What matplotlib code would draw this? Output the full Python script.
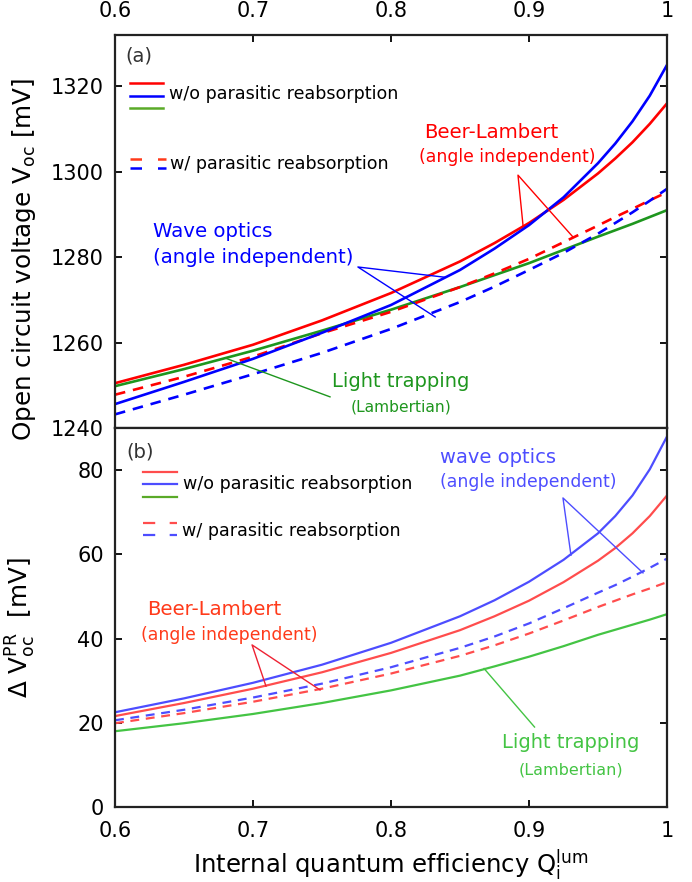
import matplotlib.pyplot as plt

# internal quantum efficiency grid
qi = [0.6, 0.65, 0.7, 0.75, 0.8, 0.85, 0.875, 0.9, 0.925, 0.95, 0.9625, 0.975, 0.9875, 1.0]

# (a) open circuit voltage [mV]
voc_bl = [1250.5, 1254.8, 1259.5, 1265.2, 1271.6, 1279.0, 1283.3, 1288.0, 1293.4, 1299.6, 1303.1, 1306.9, 1311.2, 1316.0]
voc_wo = [1245.6, 1250.8, 1256.2, 1262.3, 1268.8, 1277.0, 1282.0, 1287.5, 1294.0, 1302.0, 1306.6, 1311.8, 1317.8, 1325.0]
voc_lt = [1249.8, 1253.8, 1258.1, 1262.8, 1267.7, 1273.0, 1275.8, 1278.6, 1281.7, 1284.8, 1286.3, 1287.8, 1289.4, 1291.0]
voc_bl_pr = [1247.8, 1252.0, 1256.7, 1262.2, 1267.2, 1273.0, 1276.2, 1279.6, 1283.5, 1287.4, 1289.4, 1291.3, 1293.3, 1295.2]
voc_wo_pr = [1243.2, 1247.8, 1252.6, 1257.6, 1263.2, 1269.5, 1273.1, 1277.0, 1281.0, 1285.5, 1288.0, 1290.5, 1293.2, 1296.0]

# (b) Delta Voc due to photon recycling [mV]
dv_wo = [22.5, 25.8, 29.5, 33.8, 39.0, 45.3, 49.1, 53.5, 58.7, 65.0, 69.1, 74.0, 80.2, 88.0]
dv_bl = [21.6, 24.7, 28.1, 32.0, 36.6, 42.0, 45.3, 49.0, 53.4, 58.5, 61.5, 65.0, 69.1, 74.0]
dv_wo_pr = [20.6, 23.1, 26.0, 29.3, 33.2, 37.8, 40.5, 43.6, 47.2, 50.9, 52.7, 54.7, 56.8, 59.0]
dv_bl_pr = [19.9, 22.3, 25.0, 28.1, 31.7, 35.9, 38.4, 41.2, 44.3, 47.5, 49.0, 50.5, 51.9, 53.4]
dv_lt = [18.0, 19.9, 22.1, 24.7, 27.7, 31.2, 33.4, 35.7, 38.2, 40.9, 42.1, 43.3, 44.5, 45.8]

xticks = [0.6, 0.7, 0.8, 0.9, 1.0]
xticklabels = ["0.6", "0.7", "0.8", "0.9", "1"]

plt.rcParams["font.family"] = "DejaVu Sans"
plt.rcParams["mathtext.default"] = "regular"

fig = plt.figure(figsize=(6.92, 8.82), dpi=100)
ax1 = fig.add_axes([0.1662, 0.5147, 0.7977, 0.4456])
ax2 = fig.add_axes([0.1662, 0.0850, 0.7977, 0.4297])

RED, BLUE, GREEN = "#ff0000", "#0000ff", "#1e961e"
RED2, BLUE2, GREEN2 = "#ff4d4d", "#4d4dff", "#44c444"
LEG_GREEN = "#5aaa28"
DASH = (4, 3)
LEG_FS = 12.6

# ---- panel (a)
ax1.plot(qi, voc_lt, color=GREEN, lw=1.9)
ax1.plot(qi, voc_bl_pr, color=RED, lw=1.9, dashes=DASH)
ax1.plot(qi, voc_wo_pr, color=BLUE, lw=1.9, dashes=DASH)
ax1.plot(qi, voc_bl, color=RED, lw=1.9)
ax1.plot(qi, voc_wo, color=BLUE, lw=1.9)

ax1.set_xlim(0.6, 1.0)
ax1.set_ylim(1240, 1332)
ax1.set_yticks([1240, 1260, 1280, 1300, 1320])
ax1.set_xticks(xticks, xticklabels)
ax1.xaxis.tick_top()
ax1.tick_params(axis="x", which="both", top=True, bottom=False, labeltop=True,
                labelbottom=False, direction="in", length=5, width=1.3,
                labelsize=15, pad=10)
ax1.tick_params(axis="y", left=True, right=True, direction="in", length=5,
                width=1.3, labelsize=15, pad=8)
ax1.set_ylabel(r"Open circuit voltage $V_{oc}$ [mV]", fontsize=17.7)
ax1.yaxis.set_label_coords(-0.14, 0.43)

# manual legend (a)
for yy, c in [(0.878, RED), (0.845, BLUE), (0.814, LEG_GREEN)]:
    ax1.plot([0.027, 0.087], [yy, yy], color=c, lw=1.8, transform=ax1.transAxes)
ax1.text(0.098, 0.849, "w/o parasitic reabsorption", fontsize=LEG_FS,
         transform=ax1.transAxes, va="center")
for yy, c in [(0.684, "#ff3a1a"), (0.662, BLUE)]:
    ax1.plot([0.027, 0.092], [yy, yy], color=c, lw=1.8, dashes=(4.6, 6.4),
             transform=ax1.transAxes)
ax1.text(0.100, 0.673, "w/ parasitic reabsorption", fontsize=LEG_FS,
         transform=ax1.transAxes, va="center")
ax1.text(0.018, 0.947, "(a)", fontsize=14, color="#333333",
         transform=ax1.transAxes, va="center")

# annotations (a)
ax1.text(0.8725, 1309.1, "Beer-Lambert", color=RED, fontsize=14.2, ha="center", va="center")
ax1.text(0.8841, 1303.4, "(angle independent)", color=RED, fontsize=12.4, ha="center", va="center")
ax1.plot([0.8957, 0.892, 0.9319], [1287.3, 1299.2, 1284.7], color=RED, lw=1.0)

ax1.text(0.6275, 1285.9, "Wave optics", color=BLUE, fontsize=14.2, ha="left", va="center")
ax1.text(0.6275, 1280.0, "(angle independent)", color=BLUE, fontsize=14.2, ha="left", va="center")
ax1.plot([0.839, 0.776, 0.832], [1275.3, 1277.7, 1266.0], color=BLUE, lw=1.0)

ax1.text(0.8072, 1251.0, "Light trapping", color=GREEN, fontsize=14, ha="center", va="center")
ax1.text(0.8072, 1244.9, "(Lambertian)", color=GREEN, fontsize=11.2, ha="center", va="center")
ax1.plot([0.6797, 0.7558], [1256.4, 1247.3], color=GREEN, lw=1.0)

# ---- panel (b)
ax2.plot(qi, dv_lt, color=GREEN2, lw=1.6)
ax2.plot(qi, dv_bl_pr, color=RED2, lw=1.6, dashes=DASH)
ax2.plot(qi, dv_wo_pr, color=BLUE2, lw=1.6, dashes=DASH)
ax2.plot(qi, dv_bl, color=RED2, lw=1.6)
ax2.plot(qi, dv_wo, color=BLUE2, lw=1.6)

ax2.set_xlim(0.6, 1.0)
ax2.set_ylim(0, 90)
ax2.set_yticks([0, 20, 40, 60, 80])
ax2.set_xticks(xticks, xticklabels)
ax2.tick_params(axis="x", top=False, bottom=True, direction="in", length=5,
                width=1.3, labelsize=15, pad=10)
ax2.tick_params(axis="y", left=True, right=True, direction="in", length=5,
                width=1.3, labelsize=15, pad=8)
ax2.set_ylabel(r"$\Delta\ V_{oc}^{PR}$  [mV]", fontsize=17.7)
ax2.yaxis.set_label_coords(-0.14, 0.474)
ax2.set_xlabel(r"Internal quantum efficiency $Q_i^{lum}$", fontsize=17.5, labelpad=5)

# manual legend (b)
for yy, c in [(0.884, RED2), (0.852, BLUE2), (0.818, LEG_GREEN)]:
    ax2.plot([0.051, 0.112], [yy, yy], color=c, lw=1.6, transform=ax2.transAxes)
ax2.text(0.123, 0.852, "w/o parasitic reabsorption", fontsize=LEG_FS,
         transform=ax2.transAxes, va="center")
for yy, c in [(0.749, RED2), (0.718, BLUE2)]:
    ax2.plot([0.051, 0.112], [yy, yy], color=c, lw=1.6, dashes=(5.5, 6.5),
             transform=ax2.transAxes)
ax2.text(0.121, 0.728, "w/ parasitic reabsorption", fontsize=LEG_FS,
         transform=ax2.transAxes, va="center")
ax2.text(0.020, 0.937, "(b)", fontsize=14, color="#333333",
         transform=ax2.transAxes, va="center")

# annotations (b)
ax2.text(0.672, 46.8, "Beer-Lambert", color="#ff3a1a", fontsize=14.2, ha="center", va="center")
ax2.text(0.6826, 40.8, "(angle independent)", color="#ff3a1a", fontsize=12.4, ha="center", va="center")
ax2.plot([0.7094, 0.6993, 0.7486], [28.7, 38.5, 27.8], color="#ee2233", lw=1.0)

ax2.text(0.8355, 82.9, "wave optics", color=BLUE2, fontsize=14, ha="left", va="center")
ax2.text(0.8355, 77.2, "(angle independent)", color=BLUE2, fontsize=12.4, ha="left", va="center")
ax2.plot([0.9304, 0.9246, 0.9826], [59.8, 73.4, 55.6], color=BLUE2, lw=1.0)

ax2.text(0.9304, 15.4, "Light trapping", color=GREEN2, fontsize=14, ha="center", va="center")
ax2.text(0.9304, 8.8, "(Lambertian)", color=GREEN2, fontsize=11.5, ha="center", va="center")
ax2.plot([0.8674, 0.904], [32.9, 19.0], color=GREEN2, lw=1.0)

for ax in (ax1, ax2):
    for sp in ax.spines.values():
        sp.set_linewidth(1.6)
        sp.set_color("#222222")

fig.savefig("out.png", dpi=100)
